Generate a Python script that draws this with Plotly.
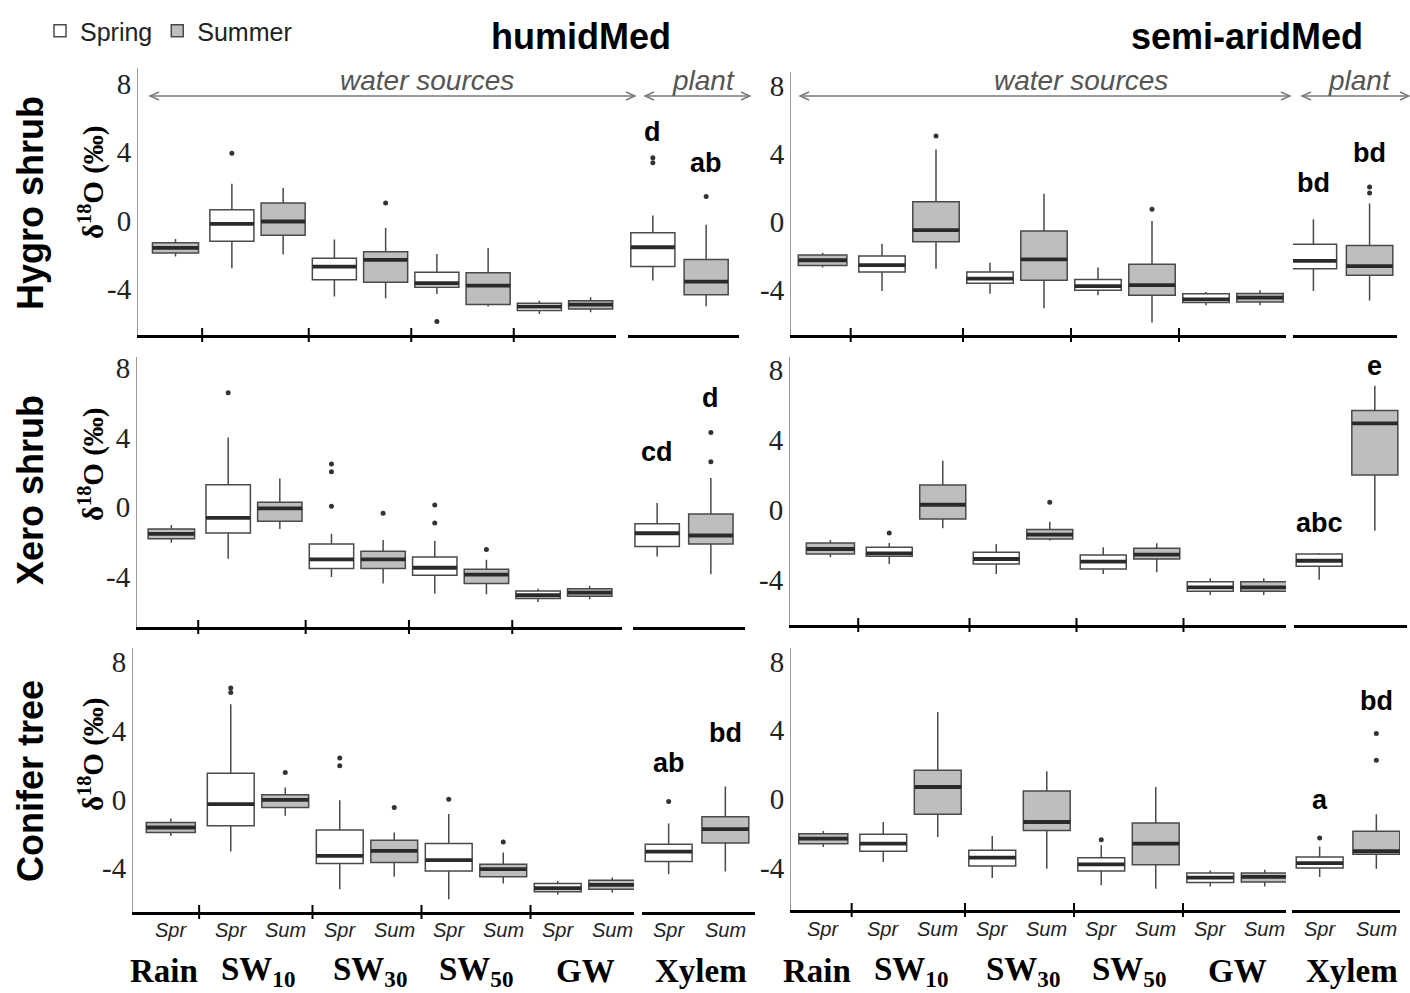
import plotly.graph_objects as go

W, H = 1410, 993

# ---------------- data ----------------
categories = ["Rain", "SW10", "SW10", "SW30", "SW30", "SW50", "SW50", "GW", "GW", "Xylem", "Xylem"]
seasons = ["Spr", "Spr", "Sum", "Spr", "Sum", "Spr", "Sum", "Spr", "Sum", "Spr", "Sum"]
group_names = ["Rain", "SW10", "SW30", "SW50", "GW", "Xylem"]
group_labels = ["Rain", "SW<sub>10</sub>", "SW<sub>30</sub>", "SW<sub>50</sub>", "GW", "Xylem"]
climates = ["humidMed", "semi-aridMed"]
plant_types = ["Hygro shrub", "Xero shrub", "Conifer tree"]
y_ticks = [-4, 0, 4, 8]
legend_names = ["Spring", "Summer"]

# Hygro shrub - humidMed
hygro_hum_lo = [-2.11, -2.80, -2.00, -4.46, -4.56, -4.31, -5.05, -5.48, -5.38, -3.52, -5.03]
hygro_hum_q1 = [-1.90, -1.21, -0.86, -3.48, -3.62, -3.91, -4.93, -5.28, -5.19, -2.70, -4.36]
hygro_hum_med = [-1.60, -0.20, -0.06, -2.70, -2.31, -3.68, -3.82, -5.05, -4.93, -1.57, -3.58]
hygro_hum_q3 = [-1.31, 0.63, 1.02, -2.21, -1.84, -3.03, -3.07, -4.85, -4.70, -0.72, -2.29]
hygro_hum_hi = [-1.08, 2.15, 1.90, -1.12, -0.43, -1.96, -1.62, -4.70, -4.50, 0.29, -0.25]
hygro_hum_out_box = [1, 4, 5, 9, 9, 10]
hygro_hum_out_val = [3.95, 1.02, -5.93, 3.68, 3.39, 1.41]
hygro_hum_letters = ["d", "ab"]
hygro_hum_letter_y = [5.2, 3.35]

# Hygro shrub - semi-aridMed
hygro_semi_lo = [-2.67, -4.04, -2.73, -4.20, -5.05, -4.29, -5.89, -4.88, -4.88, -4.04, -4.59]
hygro_semi_q1 = [-2.54, -2.93, -1.15, -3.59, -3.41, -4.00, -4.29, -4.72, -4.68, -2.73, -3.12]
hygro_semi_med = [-2.24, -2.52, -0.47, -3.32, -2.19, -3.75, -3.69, -4.53, -4.43, -2.28, -2.58]
hygro_semi_q3 = [-1.93, -1.99, 1.19, -2.93, -0.53, -3.36, -2.48, -4.20, -4.18, -1.31, -1.37]
hygro_semi_hi = [-1.80, -1.27, 4.25, -2.38, 1.66, -2.67, 0.06, -4.10, -4.00, 0.16, 1.09]
hygro_semi_out_box = [2, 6, 10, 10]
hygro_semi_out_val = [5.03, 0.74, 2.05, 1.70]
hygro_semi_letters = ["bd", "bd"]
hygro_semi_letter_y = [2.3, 4.05]

# Xero shrub - humidMed
xero_hum_lo = [-2.04, -2.95, -1.24, -4.00, -4.38, -4.95, -4.99, -5.43, -5.28, -2.82, -3.85]
xero_hum_q1 = [-1.81, -1.47, -0.80, -3.52, -3.52, -3.90, -4.38, -5.24, -5.10, -2.25, -2.10]
xero_hum_med = [-1.52, -0.61, -0.06, -2.99, -2.99, -3.47, -3.87, -5.05, -4.90, -1.49, -1.62]
xero_hum_q3 = [-1.24, 1.30, 0.29, -2.10, -2.53, -2.86, -3.56, -4.80, -4.67, -0.95, -0.38]
xero_hum_hi = [-1.01, 4.00, 1.66, -1.52, -1.87, -1.94, -3.01, -4.67, -4.51, 0.25, 1.68]
xero_hum_out_box = [1, 3, 3, 3, 4, 5, 5, 6, 10, 10]
xero_hum_out_val = [6.57, 2.48, 2.04, 0.06, -0.34, 0.13, -0.90, -2.42, 4.29, 2.61]
xero_hum_letters = ["cd", "d"]
xero_hum_letter_y = [3.15, 6.27]

# Xero shrub - semi-aridMed
xero_semi_lo = [-2.70, -3.09, -1.05, -3.66, -1.75, -3.66, -3.56, -4.86, -4.86, -3.98, -1.18]
xero_semi_q1 = [-2.51, -2.65, -0.51, -3.09, -1.66, -3.37, -2.80, -4.65, -4.65, -3.22, 2.00]
xero_semi_med = [-2.23, -2.48, 0.30, -2.80, -1.41, -2.95, -2.55, -4.42, -4.42, -2.90, 4.95]
xero_semi_q3 = [-1.89, -2.13, 1.43, -2.42, -1.12, -2.57, -2.19, -4.10, -4.10, -2.51, 5.68]
xero_semi_hi = [-1.71, -1.89, 2.82, -1.94, -0.67, -2.13, -1.90, -3.90, -3.90, -2.46, 7.10]
xero_semi_out_box = [1, 4]
xero_semi_out_val = [-1.32, 0.44]
xero_semi_letters = ["abc", "e"]
xero_semi_letter_y = [-0.74, 8.23]

# Conifer tree - humidMed
conifer_hum_lo = [-2.12, -3.03, -0.95, -5.22, -4.50, -5.81, -4.89, -5.55, -5.42, -4.35, -4.19]
conifer_hum_q1 = [-1.92, -1.53, -0.47, -3.73, -3.67, -4.16, -4.50, -5.38, -5.22, -3.61, -2.54]
conifer_hum_med = [-1.63, -0.27, -0.02, -3.28, -2.99, -3.53, -4.06, -5.17, -4.97, -3.03, -1.73]
conifer_hum_q3 = [-1.34, 1.53, 0.27, -1.77, -2.37, -2.56, -3.77, -4.89, -4.70, -2.60, -1.01]
conifer_hum_hi = [-1.11, 5.55, 0.70, -0.04, -1.92, -0.85, -3.09, -4.74, -4.54, -1.40, 0.76]
conifer_hum_out_box = [1, 1, 2, 3, 3, 4, 5, 6, 9]
conifer_hum_out_val = [6.49, 6.23, 1.57, 2.41, 1.96, -0.47, 0.02, -2.47, -0.12]
conifer_hum_letters = ["ab", "bd"]
conifer_hum_letter_y = [2.13, 3.88]

# Conifer tree - semi-aridMed
conifer_semi_lo = [-2.80, -3.67, -2.21, -4.60, -4.06, -5.03, -5.22, -5.09, -5.09, -4.54, -4.06]
conifer_semi_q1 = [-2.60, -3.05, -0.89, -3.90, -1.83, -4.19, -3.83, -4.87, -4.83, -4.02, -3.22]
conifer_semi_med = [-2.31, -2.60, 0.70, -3.42, -1.34, -3.81, -2.60, -4.58, -4.54, -3.73, -3.03]
conifer_semi_q3 = [-2.02, -2.06, 1.67, -2.99, 0.47, -3.42, -1.40, -4.31, -4.31, -3.38, -1.88]
conifer_semi_hi = [-1.86, -1.34, 5.07, -2.16, 1.61, -2.70, 0.70, -4.16, -4.12, -2.76, -0.89]
conifer_semi_out_box = [5, 9, 10, 10]
conifer_semi_out_val = [-2.37, -2.27, 3.81, 2.25]
conifer_semi_letters = ["a", "bd"]
conifer_semi_letter_y = [-0.08, 5.68]

PANELS = [
    (hygro_hum_lo, hygro_hum_q1, hygro_hum_med, hygro_hum_q3, hygro_hum_hi,
     hygro_hum_out_box, hygro_hum_out_val, hygro_hum_letters, hygro_hum_letter_y),
    (hygro_semi_lo, hygro_semi_q1, hygro_semi_med, hygro_semi_q3, hygro_semi_hi,
     hygro_semi_out_box, hygro_semi_out_val, hygro_semi_letters, hygro_semi_letter_y),
    (xero_hum_lo, xero_hum_q1, xero_hum_med, xero_hum_q3, xero_hum_hi,
     xero_hum_out_box, xero_hum_out_val, xero_hum_letters, xero_hum_letter_y),
    (xero_semi_lo, xero_semi_q1, xero_semi_med, xero_semi_q3, xero_semi_hi,
     xero_semi_out_box, xero_semi_out_val, xero_semi_letters, xero_semi_letter_y),
    (conifer_hum_lo, conifer_hum_q1, conifer_hum_med, conifer_hum_q3, conifer_hum_hi,
     conifer_hum_out_box, conifer_hum_out_val, conifer_hum_letters, conifer_hum_letter_y),
    (conifer_semi_lo, conifer_semi_q1, conifer_semi_med, conifer_semi_q3, conifer_semi_hi,
     conifer_semi_out_box, conifer_semi_out_val, conifer_semi_letters, conifer_semi_letter_y),
]

# ---------------- layout / style ----------------
# per panel geometry in pixels (water section, plant section, y mapping)
GEOM = [
    dict(wl=138, wr=616, p1=257.5, s=102.5, pl=628, pr=739, pc=679.5, z=220.5, ppu=17.05, top=68, bot=335),
    dict(wl=791, wr=1286, p1=909, s=108, pl=1293, pr=1397, pc=1341.5, z=222, ppu=17.08, top=72, bot=335),
    dict(wl=137, wr=622, p1=254, s=103.3, pl=633, pr=745, pc=684, z=507.3, ppu=17.42, top=357, bot=627),
    dict(wl=790, wr=1286, p1=916, s=107, pl=1294, pr=1407, pc=1347, z=510, ppu=17.5, top=357, bot=625),
    dict(wl=133, wr=634, p1=258, s=109, pl=642, pr=755, pc=697, z=799.5, ppu=17.17, top=648, bot=912),
    dict(wl=791, wr=1286, p1=910.5, s=109, pl=1292, pr=1400, pc=1348, z=799, ppu=17.17, top=648, bot=910),
]
GROUP_CENTER = {"Rain": 0.2, "SW10": 1.0, "SW30": 2.0, "SW50": 3.0, "GW": 4.0, "Xylem": 0.0}
LABEL_SHIFT = {"Rain": -0.06, "SW10": 0.0, "SW30": 0.03, "SW50": 0.0, "GW": 0.0, "Xylem": 0.04}
WATER_OFF = 0.25
PLANT_OFF = 0.26
SEPARATORS = [0.46, 1.5, 2.5, 3.5]

WHITE = "#FFFFFF"
GRAY = "#BEBEBE"
BOX_LINE = "#4a4a4a"
MED_COLOR = "#2a2a2a"
ARROW_COLOR = "#7a7a7a"

SANS = "Liberation Sans, Arial, sans-serif"
SERIF = "Liberation Serif, Times New Roman, serif"


def px_x(x):
    return x / W


def px_y(y):
    return 1 - y / H


def box_pos(i):
    cat = categories[i]
    if cat == "Rain":
        return GROUP_CENTER[cat]
    off = PLANT_OFF if cat == "Xylem" else WATER_OFF
    return GROUP_CENTER[cat] + (-off if seasons[i] == "Spr" else off)


def axis_ids(k, plant):
    n = 2 * k + (2 if plant else 1)
    suf = "" if n == 1 else str(n)
    return "x" + suf, "y" + suf, "xaxis" + suf, "yaxis" + suf


def ann(**kw):
    d = dict(showarrow=False, xanchor="center", yanchor="middle")
    d.update(kw)
    return d


fig = go.Figure()
shapes = []
annotations = []
layout_axes = {}

for k, (lo, q1, med, q3, hi, ob, ov, letters, letter_y) in enumerate(PANELS):
    g = GEOM[k]
    yrange = [(g["z"] - g["bot"]) / g["ppu"], (g["z"] - g["top"]) / g["ppu"]]
    ydom = [px_y(g["bot"]), px_y(g["top"])]
    for plant in (False, True):
        xa, ya, xname, yname = axis_ids(k, plant)
        if plant:
            xr = [(g["pl"] - g["pc"]) / g["s"], (g["pr"] - g["pc"]) / g["s"]]
            xd = [px_x(g["pl"]), px_x(g["pr"])]
        else:
            xr = [(g["wl"] - g["p1"]) / g["s"] + 1, (g["wr"] - g["p1"]) / g["s"] + 1]
            xd = [px_x(g["wl"]), px_x(g["wr"])]
        layout_axes[xname] = dict(domain=xd, range=xr, anchor=ya, showline=True, linecolor="black",
                                  linewidth=3, showticklabels=False, ticks="", showgrid=False,
                                  zeroline=False, fixedrange=True)
        layout_axes[yname] = dict(domain=ydom, range=yrange, anchor=xa, showgrid=False, zeroline=False,
                                  fixedrange=True,
                                  showline=not plant, linecolor="#9a9a9a", linewidth=1,
                                  showticklabels=not plant, tickvals=y_ticks,
                                  ticktext=[str(t) for t in y_ticks], ticks="",
                                  tickfont=dict(family=SERIF, size=29, color="#222"))
        idx = [i for i in range(len(categories)) if (categories[i] == "Xylem") == plant]
        # boxes
        for i in idx:
            fill = GRAY if (seasons[i] == "Sum" or categories[i] == "Rain") else WHITE
            show = (k == 0 and i in (1, 2))
            fig.add_trace(go.Box(
                x=[box_pos(i)], q1=[q1[i]], median=[med[i]], q3=[q3[i]],
                lowerfence=[lo[i]], upperfence=[hi[i]],
                width=0.45 if categories[i] == "Rain" else 0.43,
                fillcolor=fill, line=dict(color=BOX_LINE, width=1.5), whiskerwidth=0,
                boxpoints=False, xaxis=xa, yaxis=ya, hoverinfo="skip",
                name=legend_names[0] if i == 1 else legend_names[1],
                legendrank=1 if i == 1 else 2, showlegend=show))
        # thick medians
        mx, my = [], []
        for i in idx:
            w = 0.45 if categories[i] == "Rain" else 0.43
            p = box_pos(i)
            mx += [p - w / 2, p + w / 2, None]
            my += [med[i], med[i], None]
        fig.add_trace(go.Scatter(x=mx, y=my, mode="lines", line=dict(color=MED_COLOR, width=3.8),
                                 xaxis=xa, yaxis=ya, showlegend=False, hoverinfo="skip"))
        # outliers
        oxs = [box_pos(b) for b, v in zip(ob, ov) if (categories[b] == "Xylem") == plant]
        oys = [v for b, v in zip(ob, ov) if (categories[b] == "Xylem") == plant]
        if oxs:
            fig.add_trace(go.Scatter(x=oxs, y=oys, mode="markers",
                                     marker=dict(color="#333", size=5),
                                     xaxis=xa, yaxis=ya, showlegend=False, hoverinfo="skip"))
        # letters
        if plant:
            for j, (lt, ly) in enumerate(zip(letters, letter_y)):
                annotations.append(ann(x=-PLANT_OFF if j == 0 else PLANT_OFF, y=ly, xref=xa, yref=ya,
                                       text="<b>%s</b>" % lt,
                                       font=dict(family=SANS, size=27, color="black")))
        else:
            for sx in SEPARATORS:
                shapes.append(dict(type="line", xref=xa, yref="paper", x0=sx, x1=sx,
                                   y0=px_y(g["bot"] + 7), y1=px_y(g["bot"] - 7),
                                   line=dict(color="black", width=2)))
        # bottom labels for last row
        if k >= 4:
            for i in idx:
                annotations.append(ann(x=box_pos(i), y=px_y(930 if k == 4 else 929), xref=xa, yref="paper",
                                       text="<i>%s</i>" % seasons[i],
                                       font=dict(family=SANS, size=20, color="#222")))
            for gname, glabel in zip(group_names, group_labels):
                if (gname == "Xylem") != plant:
                    continue
                annotations.append(ann(x=GROUP_CENTER[gname] + LABEL_SHIFT[gname], y=px_y(971),
                                       xref=xa, yref="paper", text="<b>%s</b>" % glabel,
                                       font=dict(family=SERIF, size=33, color="black")))

# column titles
for cx, title in zip([581, 1247], climates):
    annotations.append(ann(x=px_x(cx), y=px_y(36), xref="paper", yref="paper", text="<b>%s</b>" % title,
                           font=dict(family=SANS, size=36, color="black")))

# row labels and y titles
for cy, ty, lab in zip([203, 490, 781], [183, 465, 755], plant_types):
    annotations.append(ann(x=px_x(30), y=px_y(cy), xref="paper", yref="paper", text="<b>%s</b>" % lab,
                           textangle=-90, font=dict(family=SANS, size=36, color="black")))
    annotations.append(ann(x=px_x(91), y=px_y(ty), xref="paper", yref="paper",
                           text="<b>δ<sup>18</sup>O (‰)</b>", textangle=-90,
                           font=dict(family=SERIF, size=29, color="black")))

# section arrows (top row): double-headed open arrows drawn as shapes
AY = 96
HEAD_L, HEAD_H = 9, 4
for (x0, x1, tx, lab) in [(150, 635, 427, "water sources"), (645, 750, 703, "plant"),
                          (800, 1290, 1081, "water sources"), (1302, 1409, 1359, "plant")]:
    shapes.append(dict(type="line", xref="paper", yref="paper", x0=px_x(x0), x1=px_x(x1),
                       y0=px_y(AY), y1=px_y(AY), line=dict(color=ARROW_COLOR, width=1.4)))
    for tip, d in ((x0, 1), (x1, -1)):
        path = "M %f,%f L %f,%f L %f,%f" % (px_x(tip + d * HEAD_L), px_y(AY - HEAD_H),
                                             px_x(tip), px_y(AY),
                                             px_x(tip + d * HEAD_L), px_y(AY + HEAD_H))
        shapes.append(dict(type="path", xref="paper", yref="paper", path=path,
                           line=dict(color=ARROW_COLOR, width=1.4)))
    annotations.append(ann(x=px_x(tx), y=px_y(81), xref="paper", yref="paper", text="<i>%s</i>" % lab,
                           font=dict(family=SANS, size=28, color="#555")))

fig.update_layout(
    width=W, height=H, autosize=False,
    margin=dict(l=0, r=0, t=0, b=0, pad=0, autoexpand=False),
    paper_bgcolor="white", plot_bgcolor="white",
    boxmode="overlay",
    showlegend=True,
    legend=dict(x=px_x(40), y=px_y(8), xanchor="left", yanchor="top", orientation="h",
                font=dict(family=SANS, size=25, color="#222"), bgcolor="rgba(0,0,0,0)",
                itemwidth=30, tracegroupgap=0),
    shapes=shapes,
    annotations=annotations,
    **layout_axes,
)

fig.write_html("out.html")
